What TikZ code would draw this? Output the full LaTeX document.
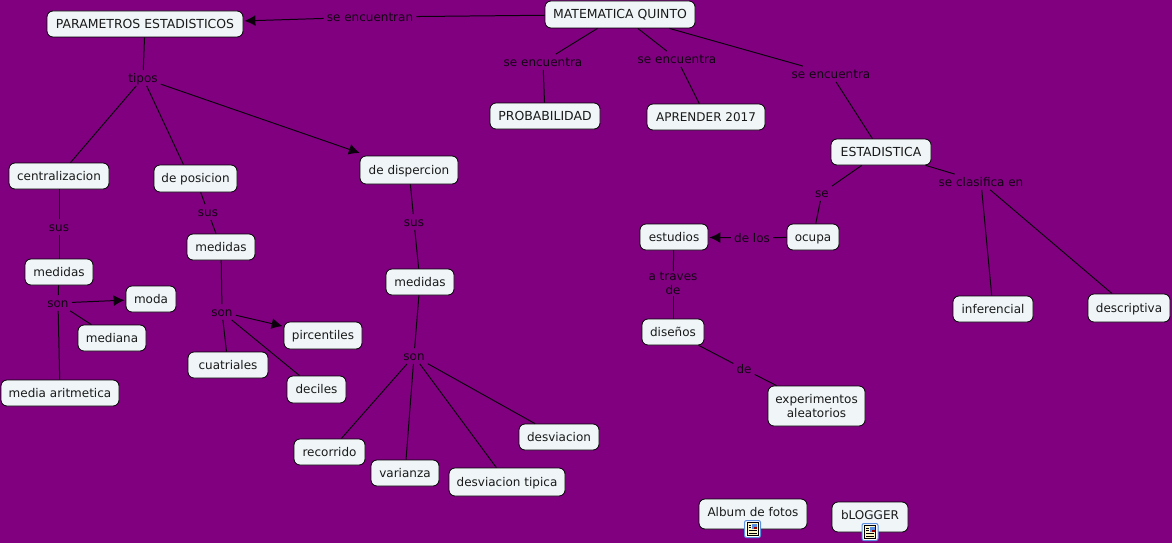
\documentclass[tikz,border=0pt]{standalone}
\usepackage{fontspec}
\setmainfont{DejaVu Sans}
\usetikzlibrary{arrows.meta}
\definecolor{bgpurple}{HTML}{800080}
\definecolor{boxfill}{HTML}{F0F6F8}
\definecolor{iconblue}{HTML}{5A8FE0}
\definecolor{iconpage}{HTML}{FBF7C8}
\tikzset{
 concept/.style={draw=black,fill=boxfill,rounded corners=6pt,line width=0.8pt,minimum height=26pt,inner sep=0pt,align=center,font=\fontsize{12}{15}\selectfont,text=black!90,text height=10.4pt,text depth=2pt},
 capital/.style={font=\fontsize{12.45}{15}\selectfont},
 twolines/.style={text height=,text depth=},
 linkword/.style={inner ysep=1pt,inner xsep=3pt,align=center,font=\fontsize{12}{15}\selectfont,text=black!85!bgpurple,text height=11.4pt,text depth=2pt},
 conn/.style={line width=1pt,draw=black!90!bgpurple},
 arr/.style={conn,-{Latex[length=11pt,width=11pt]},shorten >=1pt},
 icon/.pic={
  \draw[iconblue,fill=white,line width=1pt,rounded corners=2pt] (-8,-8.5) rectangle (8,8.5);
  \draw[black,fill=iconpage,line width=0.7pt] (-5.5,-6.5) rectangle (5.5,6.5);
  \fill[iconblue] (-0.5,-5.5) rectangle (4.8,0);
  \fill[red!60!black] (1.5,-2.5) rectangle (4.8,0);
  \draw[black,line width=0.8pt] (-4,-4)--(-1.5,-4) (-4,-1.5)--(-1.5,-1.5) (-4,1.5)--(4,1.5) (-4,4)--(4,4);
 }
}
\begin{document}
\begin{tikzpicture}[x=1pt,y=-1pt]
\fill[bgpurple] (0,0) rectangle (1172,543);
\useasboundingbox (0,0) rectangle (1172,543);
% concepts
\node[concept,capital,minimum width=196pt] (param) at (145,24) {PARAMETROS ESTADISTICOS};
\node[concept,capital,minimum width=150pt,minimum height=27pt] (mate) at (620,14.5) {MATEMATICA QUINTO};
\node[concept,capital,minimum width=110pt] (prob) at (545,116) {PROBABILIDAD};
\node[concept,minimum width=118pt] (apr) at (706,117) {APRENDER 2017};
\node[concept,capital,minimum width=100pt] (esta) at (881,152) {ESTADISTICA};
\node[concept,minimum width=100pt] (centr) at (59,176) {centralizacion};
\node[concept,minimum width=83pt,minimum height=27pt] (posi) at (195.5,178.5) {de posicion};
\node[concept,minimum width=98pt,minimum height=28pt] (disp) at (409,170) {de dispercion};
\node[concept,minimum width=68pt] (medA) at (59,272) {medidas};
\node[concept,minimum width=50pt] (moda) at (151,299) {moda};
\node[concept,minimum width=68pt] (medn) at (112,338) {mediana};
\node[concept,minimum width=118pt] (arit) at (60,393) {media aritmetica};
\node[concept,minimum width=68pt] (medB) at (221,247) {medidas};
\node[concept,minimum width=78pt,minimum height=27pt] (pirc) at (323,335.5) {pircentiles};
\node[concept,minimum width=80pt] (cuat) at (228,365) {cuatriales};
\node[concept,minimum width=59pt,minimum height=27pt] (deci) at (316.5,389.5) {deciles};
\node[concept,minimum width=68pt] (medC) at (420,282) {medidas};
\node[concept,minimum width=80pt] (desv) at (559,437) {desviacion};
\node[concept,minimum width=71pt] (reco) at (329.5,452) {recorrido};
\node[concept,minimum width=68pt] (vari) at (405,473) {varianza};
\node[concept,minimum width=116pt,minimum height=28pt] (tipi) at (507,482) {desviacion tipica};
\node[concept,minimum width=68pt] (estu) at (674,237) {estudios};
\node[concept,minimum width=52pt] (ocup) at (813,237) {ocupa};
\node[concept,minimum width=62pt] (dise) at (673,332) {diseños};
\node[concept,twolines,minimum width=97pt,minimum height=40pt] (expe) at (816.5,406) {experimentos\\[-1pt]aleatorios};
\node[concept,minimum width=80pt] (infe) at (993,309) {inferencial};
\node[concept,minimum width=82pt,minimum height=28pt] (desc) at (1129,308) {descriptiva};
\node[concept,minimum width=108pt,minimum height=30pt,text height=6.4pt] (albu) at (753,514) {Album de fotos};
\node[concept,minimum width=76pt,minimum height=30pt,text height=6.4pt] (blog) at (870,517) {bLOGGER};
% link words
\node[linkword] (l1) at (370,17) {se encuentran};
\node[linkword] (l2) at (543,62) {se encuentra};
\node[linkword] (l3) at (677,59) {se encuentra};
\node[linkword] (l4) at (831,74) {se encuentra};
\node[linkword] (l5) at (143,78) {tipos};
\node[linkword] (l6) at (59,227) {sus};
\node[linkword] (l7) at (58,303) {son};
\node[linkword] (l8) at (208,212) {sus};
\node[linkword] (l9) at (222,312) {son};
\node[linkword] (l10) at (414,222) {sus};
\node[linkword] (l11) at (414,356) {son};
\node[linkword] (l12) at (822,193) {se};
\node[linkword] (l13) at (981,182) {se clasifica en};
\node[linkword] (l14) at (752,238) {de los};
\node[linkword,twolines] (l15) at (673,283.5) {a traves\\[-1pt]de};
\node[linkword] (l16) at (744,369) {de};
% connectors
\draw[conn] (mate)--(l1);
\draw[arr] (l1)--(param);
\draw[conn] (mate)--(l2); \draw[conn] (l2)--(prob);
\draw[conn] (mate)--(l3); \draw[conn] (l3)--(apr);
\draw[conn] (mate)--(l4); \draw[conn] (l4)--(esta);
\draw[conn] (param)--(l5);
\draw[conn] (l5)--(centr); \draw[conn] (l5)--([xshift=-12pt]posi.north);
\draw[arr,shorten >=8pt] (l5)--(disp);
\draw[conn] (centr)--(l6); \draw[conn] (l6)--(medA);
\draw[conn] (medA)--(l7);
\draw[arr] (l7)--(moda);
\draw[conn] (l7)--(medn); \draw[conn] (l7)--(arit);
\draw[conn] (posi)--(l8); \draw[conn] (l8)--(medB);
\draw[conn] (medB)--(l9);
\draw[arr] (l9)--(pirc);
\draw[conn] (l9)--(cuat); \draw[conn] (l9)--(deci);
\draw[conn] (disp)--(l10); \draw[conn] (l10)--(medC);
\draw[conn] (medC)--(l11);
\draw[conn] (l11)--(desv); \draw[conn] (l11)--(reco); \draw[conn] (l11)--(vari); \draw[conn] (l11)--(tipi);
\draw[conn] (esta)--(l12); \draw[conn] (l12)--(ocup);
\draw[conn] (esta)--(l13); \draw[conn] (l13)--(infe); \draw[conn] (l13)--(desc);
\draw[conn] (ocup)--(l14);
\draw[arr] (l14)--(estu);
\draw[conn] (estu)--(l15); \draw[conn] (l15)--(dise);
\draw[conn] (dise)--(l16); \draw[conn] (l16)--(expe);
% icons
\pic at (752.5,529) {icon};
\pic at (870,532) {icon};
\end{tikzpicture}
\end{document}
